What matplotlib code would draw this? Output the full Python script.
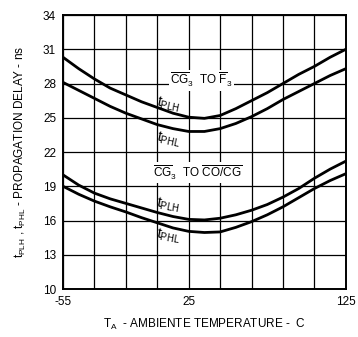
import matplotlib.pyplot as plt

plt.rcParams['font.family'] = ['Liberation Sans', 'DejaVu Sans']
plt.rcParams['mathtext.default'] = 'regular'

temp = [-55, -45, -35, -25, -15, -5, 5, 15, 25, 35, 45, 55, 65, 75, 85, 95, 105, 115, 125]

# CG3 to F3
f3_plh = [30.3, 29.3, 28.4, 27.6, 27.0, 26.4, 25.9, 25.4, 25.05, 24.95, 25.2, 25.8, 26.5, 27.2, 28.0, 28.8, 29.5, 30.3, 31.0]
f3_phl = [28.1, 27.4, 26.7, 26.0, 25.4, 24.9, 24.4, 24.05, 23.8, 23.8, 24.05, 24.5, 25.1, 25.8, 26.6, 27.3, 28.0, 28.7, 29.3]

# CG3 to CO/CG
co_plh = [20.0, 19.1, 18.4, 17.9, 17.5, 17.1, 16.7, 16.35, 16.1, 16.05, 16.2, 16.5, 16.9, 17.4, 18.05, 18.8, 19.7, 20.5, 21.2]
co_phl = [19.0, 18.3, 17.7, 17.2, 16.75, 16.25, 15.8, 15.35, 15.05, 14.95, 15.0, 15.4, 15.9, 16.5, 17.2, 18.0, 18.8, 19.5, 20.1]

grid_x = [-55, -35, -15, 5, 25, 45, 65, 85, 105, 125]
x_labels = ['-55', '', '', '', '25', '', '', '', '', '125']
y_ticks = [10, 13, 16, 19, 22, 25, 28, 31, 34]

fig = plt.figure(figsize=(3.58, 3.37), dpi=100)
ax = fig.add_axes([0.176, 0.1424, 0.79, 0.813])

for ys in (f3_plh, f3_phl, co_plh, co_phl):
    ax.plot(temp, ys, color='black', linewidth=2, solid_joinstyle='round')

ax.set_xlim(-55, 125)
ax.set_ylim(10, 34)
ax.set_xticks(grid_x)
ax.set_xticklabels(x_labels)
ax.set_yticks(y_ticks)
ax.grid(True, color='black', linewidth=0.9)
ax.tick_params(length=0, labelsize=8.5, pad=5)
for s in ax.spines.values():
    s.set_linewidth(1.4)

box = dict(facecolor='white', edgecolor='none', pad=1)
ax.text(33, 28.3, r'$\overline{CG}_3$  TO $\overline{F}_3$', fontsize=8.5, ha='center', va='center', bbox=box)
ax.text(31, 20.2, r'$\overline{CG}_3$  TO $\overline{CO/CG}$', fontsize=8.5, ha='center', va='center', bbox=box)

ax.text(12, 26.2, r'$t_{PLH}$', fontsize=10, ha='center', va='center', rotation=-12)
ax.text(12, 23.1, r'$t_{PHL}$', fontsize=10, ha='center', va='center', rotation=-12)
ax.text(12, 17.4, r'$t_{PLH}$', fontsize=10, ha='center', va='center', rotation=-10)
ax.text(12, 14.6, r'$t_{PHL}$', fontsize=10, ha='center', va='center', rotation=-10)

ax.set_xlabel(r'$T_A$  - AMBIENTE TEMPERATURE -  C', fontsize=8.5, va='center')
ax.xaxis.set_label_coords(0.5, -0.13)
ax.set_ylabel(r'$t_{PLH}$ , $t_{PHL}$ - PROPAGATION DELAY - ns', fontsize=8.5, va='center')
ax.yaxis.set_label_coords(-0.15, 0.5)

fig.savefig('out.png', dpi=100)
